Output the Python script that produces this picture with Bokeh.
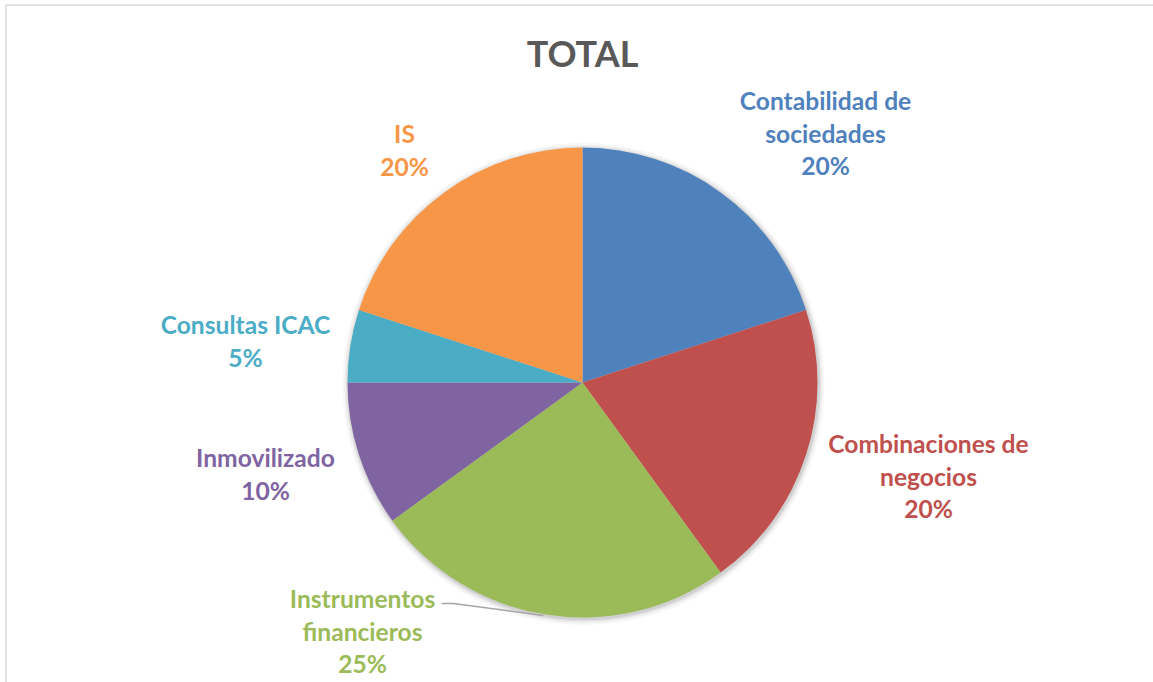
import math
from bokeh.plotting import figure
from bokeh.models import Range1d, ColumnDataSource
from bokeh.core.properties import value
from bokeh.embed import file_html
from bokeh.resources import INLINE

# ---- data ----
categories = ["Contabilidad de sociedades", "Combinaciones de negocios",
              "Instrumentos financieros", "Inmovilizado", "Consultas ICAC", "IS"]
label_lines = [["Contabilidad de", "sociedades"], ["Combinaciones de", "negocios"],
               ["Instrumentos", "financieros"], ["Inmovilizado"], ["Consultas ICAC"], ["IS"]]
shares = [20, 20, 25, 10, 5, 20]
colors = ["#4F81BD", "#C0504D", "#9BBB59", "#8064A2", "#4BACC6", "#F79646"]
title_text = "TOTAL"

W, H = 1153, 682
def Y(py):
    return H - py

cx, cy, R = 582, Y(382), 235

p = figure(width=W, height=H, output_backend="svg", toolbar_location=None,
           x_range=Range1d(0, W), y_range=Range1d(0, H),
           x_axis_type=None, y_axis_type=None, min_border=0)
p.outline_line_color = None
p.grid.visible = False
p.background_fill_color = "white"
p.border_fill_color = "white"

# frame border (only left/top visible)
p.quad(left=[5.5], right=[W + 20], top=[Y(4.5)], bottom=[-20],
       fill_color=None, line_color="#d9d9d9", line_width=1.5)

# soft shadow
for k, a in [(6, 0.03), (4, 0.04), (2.5, 0.05), (1.2, 0.07)]:
    p.circle(x=[cx + 1], y=[cy - 1.5], radius=R + k, radius_units="data",
             fill_color="black", fill_alpha=a, line_color=None)

# wedges
total = sum(shares)
starts, ends, cum = [], [], 0
for s in shares:
    starts.append(math.pi / 2 - 2 * math.pi * cum / total)
    cum += s
    ends.append(math.pi / 2 - 2 * math.pi * cum / total)
src = ColumnDataSource(dict(start=starts, end=ends, color=colors, cat=categories))
p.wedge(x=cx, y=cy, radius=R, start_angle="start", end_angle="end",
        direction="clock", fill_color="color", line_color=None, source=src)

# leader line for Instrumentos financieros
p.line(x=[441, 453, 543], y=[Y(603), Y(603), Y(615)], line_color="#A6A6A6", line_width=1.5)

# labels: (center x, first-line y) in pixel positions
anchors = [(825, 100), (928, 443), (362, 598), (265, 457), (245, 324), (404, 133)]
LH = 32.5
xs, ys, txt, cols = [], [], [], []
for lines, s, c, (ax, ay) in zip(label_lines, shares, colors, anchors):
    allines = lines + [f"{s}%"]
    for i, t in enumerate(allines):
        xs.append(ax)
        ys.append(Y(ay + i * LH))
        txt.append(t)
        cols.append(c)
p.text(x=xs, y=ys, text=txt, text_color=cols, text_align="center",
       text_baseline="middle", text_font=value("Lato"), text_font_style="bold",
       text_font_size="24.6px")

# title
p.text(x=[582], y=[Y(52)], text=[title_text], text_color="#595959", text_align="center",
       text_baseline="middle", text_font=value("Lato"), text_font_style="bold",
       text_font_size="36px")

open("out.html", "w").write(file_html(p, INLINE))
